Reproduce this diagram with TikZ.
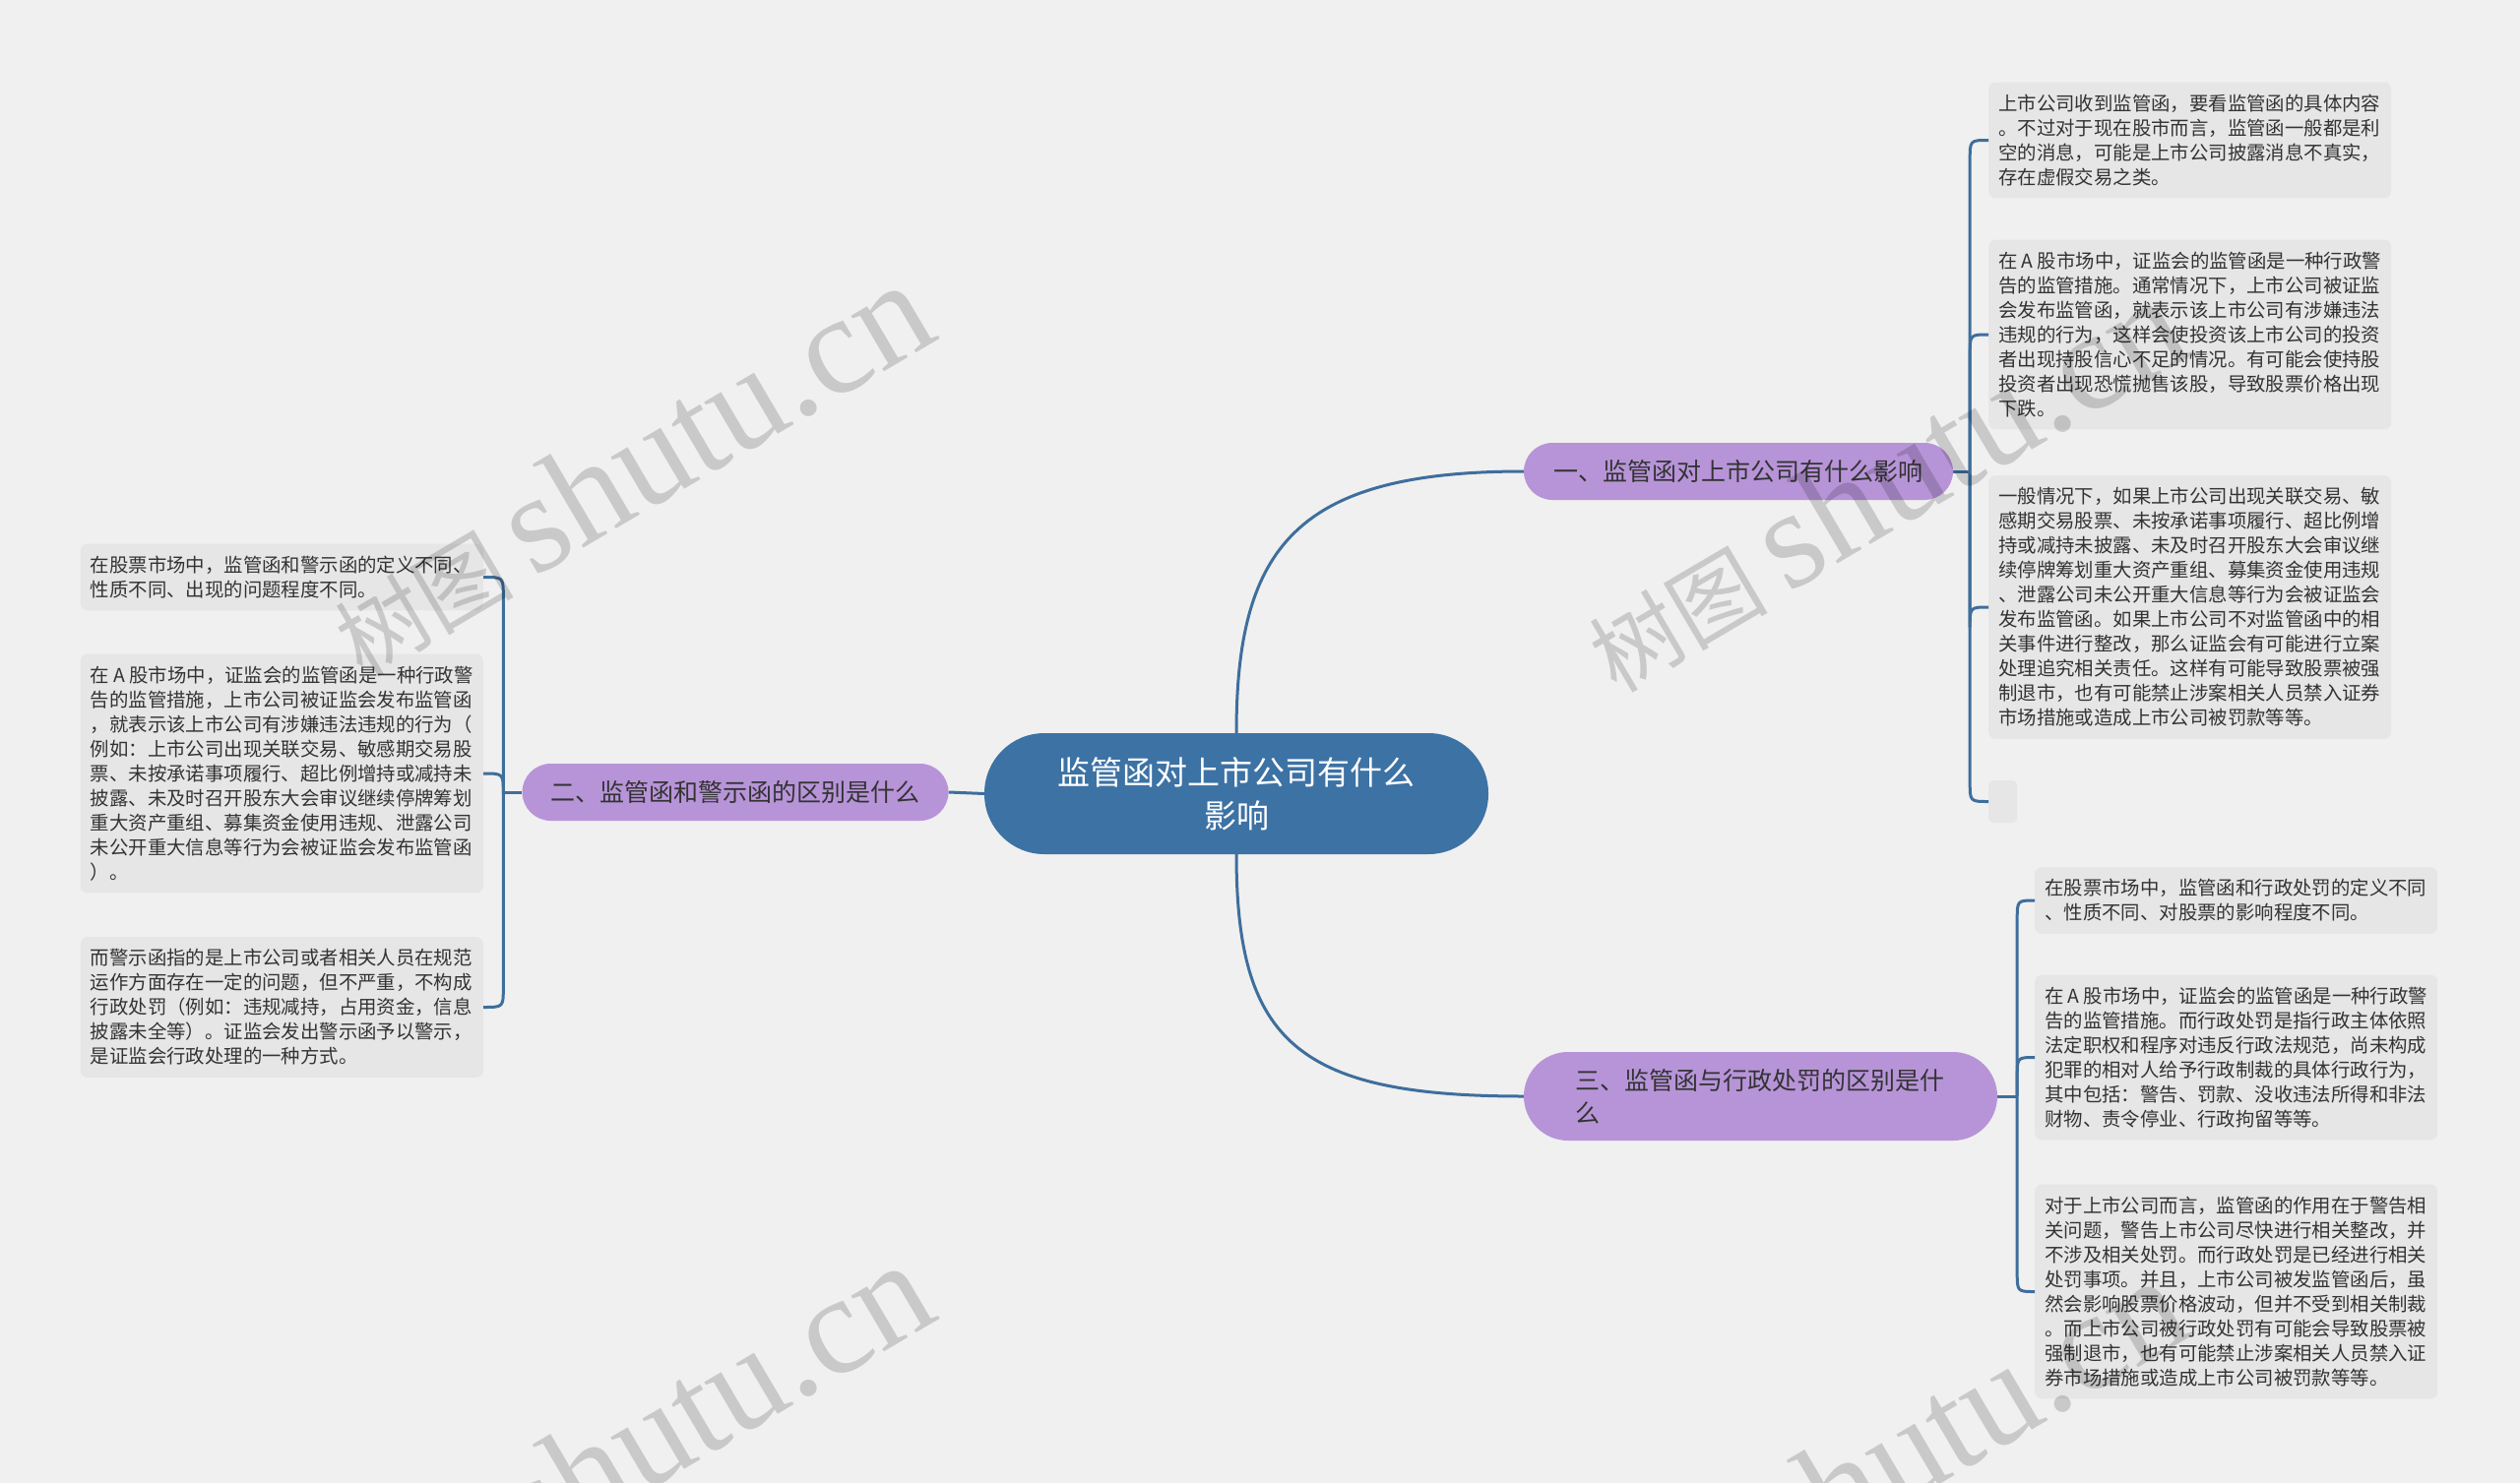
\documentclass[tikz,border=0pt]{standalone}
\usepackage{fontspec}
\setmainfont{Noto Sans CJK SC}
\newfontfamily\wmlat{Liberation Serif}
\newfontfamily\wmcjk{Noto Sans CJK SC}
\usetikzlibrary{calc}
\definecolor{bgc}{HTML}{F0F0F0}
\definecolor{leafc}{HTML}{E6E6E6}
\definecolor{pillc}{HTML}{B794D8}
\definecolor{rootc}{HTML}{3D72A4}
\definecolor{linec}{HTML}{3E6E9C}
\definecolor{txtc}{HTML}{333333}
\newcommand{\Aa}{\hspace{0.22em}A\hspace{0.22em}}
\newcommand{\wmtext}{\wmcjk\fontsize{91pt}{91pt}\selectfont 树图 \wmlat\fontsize{143pt}{143pt}\selectfont shutu.cn}
\tikzset{
  leaf/.style={fill=leafc, rounded corners=7pt, text width=389pt, inner xsep=10pt, inner ysep=12.3pt,
    align=left, text=txtc, font=\fontsize{19.4pt}{25pt}\selectfont},
  pill/.style={fill=pillc, inner sep=0pt, text=txtc, font=\fontsize{25pt}{33pt}\selectfont},
  rootbox/.style={fill=rootc, rounded corners=61pt, minimum width=512pt, minimum height=123pt,
    inner sep=0pt, text=white, align=center, font=\fontsize{33pt}{44pt}\selectfont},
  conn/.style={draw=linec, line width=3pt, line join=round},
  wm/.style={text=black, text opacity=0.16, rotate=30.5, anchor=base west, inner sep=0pt}
}
\begin{document}
\begin{tikzpicture}[x=1pt,y=-1pt]
\fill[bgc] (0,0) rectangle (2560,1507);
\useasboundingbox (0,0) rectangle (2560,1507);

% root and main branches
\node[rootbox] (root) at (1256,806.5) {监管函对上市公司有什么\\影响};
\node[pill, rounded corners=29pt, minimum width=436pt, minimum height=58pt] (b1) at (1766,479) {一、监管函对上市公司有什么影响};
\node[pill, rounded corners=29pt, minimum width=433pt, minimum height=58pt] (b2) at (747,805) {二、监管函和警示函的区别是什么};
\node[pill, rounded corners=45pt, minimum width=481pt, minimum height=90pt, text width=376pt, align=left] (b3) at (1788.5,1114) {三、监管函与行政处罚的区别是什\\么};

% leaves of branch 1
\node[leaf, anchor=west] (l1a) at (2020,142.5) {上市公司收到监管函，要看监管函的具体内容\\。不过对于现在股市而言，监管函一般都是利\\空的消息，可能是上市公司披露消息不真实，\\存在虚假交易之类。};
\node[leaf, anchor=west] (l1b) at (2020,340) {在\Aa 股市场中，证监会的监管函是一种行政警\\告的监管措施。通常情况下，上市公司被证监\\会发布监管函，就表示该上市公司有涉嫌违法\\违规的行为，这样会使投资该上市公司的投资\\者出现持股信心不足的情况。有可能会使持股\\投资者出现恐慌抛售该股，导致股票价格出现\\下跌。};
\node[leaf, anchor=west] (l1c) at (2020,617) {一般情况下，如果上市公司出现关联交易、敏\\感期交易股票、未按承诺事项履行、超比例增\\持或减持未披露、未及时召开股东大会审议继\\续停牌筹划重大资产重组、募集资金使用违规\\、泄露公司未公开重大信息等行为会被证监会\\发布监管函。如果上市公司不对监管函中的相\\关事件进行整改，那么证监会有可能进行立案\\处理追究相关责任。这样有可能导致股票被强\\制退市，也有可能禁止涉案相关人员禁入证券\\市场措施或造成上市公司被罚款等等。};
\node[fill=leafc, rounded corners=5pt, minimum width=29pt, minimum height=43pt, inner sep=0pt, anchor=west] (l1d) at (2020,814.5) {};

% leaves of branch 2
\node[leaf, anchor=east] (l2a) at (491,586.5) {在股票市场中，监管函和警示函的定义不同、\\性质不同、出现的问题程度不同。};
\node[leaf, anchor=east] (l2b) at (491,786) {在\Aa 股市场中，证监会的监管函是一种行政警\\告的监管措施，上市公司被证监会发布监管函\\，就表示该上市公司有涉嫌违法违规的行为（\\例如：上市公司出现关联交易、敏感期交易股\\票、未按承诺事项履行、超比例增持或减持未\\披露、未及时召开股东大会审议继续停牌筹划\\重大资产重组、募集资金使用违规、泄露公司\\未公开重大信息等行为会被证监会发布监管函\\）。};
\node[leaf, anchor=east] (l2c) at (491,1023.5) {而警示函指的是上市公司或者相关人员在规范\\运作方面存在一定的问题，但不严重，不构成\\行政处罚（例如：违规减持，占用资金，信息\\披露未全等）。证监会发出警示函予以警示，\\是证监会行政处理的一种方式。};

% leaves of branch 3
\node[leaf, anchor=west] (l3a) at (2067,915) {在股票市场中，监管函和行政处罚的定义不同\\、性质不同、对股票的影响程度不同。};
\node[leaf, anchor=west] (l3b) at (2067,1074.5) {在\Aa 股市场中，证监会的监管函是一种行政警\\告的监管措施。而行政处罚是指行政主体依照\\法定职权和程序对违反行政法规范，尚未构成\\犯罪的相对人给予行政制裁的具体行政行为，\\其中包括：警告、罚款、没收违法所得和非法\\财物、责令停业、行政拘留等等。};
\node[leaf, anchor=west] (l3c) at (2067,1312.5) {对于上市公司而言，监管函的作用在于警告相\\关问题，警告上市公司尽快进行相关整改，并\\不涉及相关处罚。而行政处罚是已经进行相关\\处罚事项。并且，上市公司被发监管函后，虽\\然会影响股票价格波动，但并不受到相关制裁\\。而上市公司被行政处罚有可能会导致股票被\\强制退市，也有可能禁止涉案相关人员禁入证\\券市场措施或造成上市公司被罚款等等。};

% main connectors
\draw[conn] (root.north) .. controls +(0,-190) and +(-230,0) .. (b1.west);
\draw[conn] (root.south) .. controls +(0,190) and +(-230,0) .. (b3.west);
\draw[conn] (root.west) -- (b2.east);

% branch 1 brackets
\draw[conn] (b1.east) -- ++(17,0) coordinate (t1);
\foreach \L/\s in {l1a/20,l1b/20,l1c/20,l1d/-20}{
  \draw[conn] (t1) -- ($(t1 |- \L.west)+(0,\s)$) .. controls (t1 |- \L.west) .. (\L.west);
}
% branch 3 brackets
\draw[conn] (b3.east) -- ++(20,0) coordinate (t3);
\foreach \L/\s in {l3a/20,l3b/20,l3c/-20}{
  \draw[conn] (t3) -- ($(t3 |- \L.west)+(0,\s)$) .. controls (t3 |- \L.west) .. (\L.west);
}
% branch 2 brackets
\draw[conn] (b2.west) -- ++(-19,0) coordinate (t2);
\foreach \L/\s in {l2a/20,l2b/20,l2c/-20}{
  \draw[conn] (t2) -- ($(t2 |- \L.east)+(0,\s)$) .. controls (t2 |- \L.east) .. (\L.east);
}

% watermarks
\node[wm] (wm1) at (368,690) {\wmtext};
\node[wm] (wm2) at (1642,706) {\wmtext};
\node[wm] (wm3) at (368,1686) {\wmtext};
\node[wm] (wm4) at (1642,1702) {\wmtext};
\end{tikzpicture}
\end{document}
